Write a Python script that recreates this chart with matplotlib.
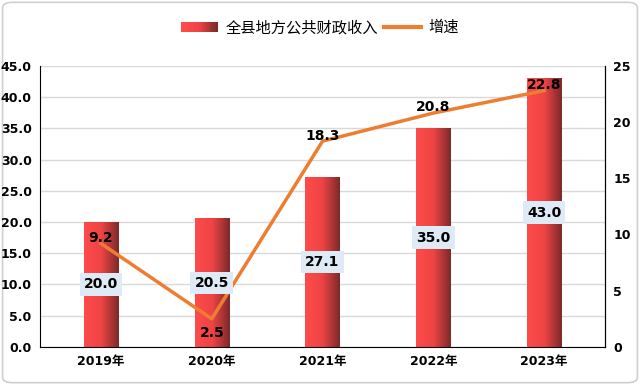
import numpy as np
import matplotlib
matplotlib.use('Agg')
import matplotlib.pyplot as plt
from matplotlib.colors import LinearSegmentedColormap
from matplotlib.legend_handler import HandlerBase
from matplotlib.patches import Rectangle, FancyBboxPatch
from matplotlib.lines import Line2D

plt.rcParams['font.family'] = ['DejaVu Sans', 'Noto Sans CJK SC']

# 数据
years = ['2019年', '2020年', '2021年', '2022年', '2023年']
revenue = [20.0, 20.5, 27.1, 35.0, 43.0]
growth = [9.2, 2.5, 18.3, 20.8, 22.8]

bar_cmap = LinearSegmentedColormap.from_list(
    'bar', [(0, '#ff4b4b'), (0.5, '#ee4444'), (1, '#7d2a2a')])


class GradientHandler(HandlerBase):
    def create_artists(self, legend, orig, xd, yd, w, h, fs, trans):
        out = []
        n = 20
        for i in range(n):
            r = Rectangle((xd + w * i / n, yd), w / n + 0.3, h,
                          facecolor=bar_cmap(i / (n - 1)), edgecolor='none',
                          transform=trans)
            out.append(r)
        return out


fig = plt.figure(figsize=(6.4, 3.85), dpi=100)
border = FancyBboxPatch((0.004, 0.006), 0.992, 0.988,
                        boxstyle='round,pad=0,rounding_size=0.015',
                        transform=fig.transFigure, facecolor='none',
                        edgecolor='#d0d0d0', linewidth=1.2, zorder=-1)
fig.patches.append(border)

ax = fig.add_axes([0.0625, 0.099, 0.883, 0.73])
ax2 = ax.twinx()

x = np.arange(len(years))
bw = 0.31
for xi, v in zip(x, revenue):
    grad = np.linspace(0, 1, 64).reshape(1, -1)
    ax.imshow(grad, cmap=bar_cmap, extent=[xi - bw / 2, xi + bw / 2, 0, v],
              aspect='auto', zorder=2, interpolation='bilinear')

ax.set_xlim(-0.55, len(years) - 0.45)
ax.set_ylim(0, 45)
ax.set_yticks(np.arange(0, 46, 5))
ax.set_yticklabels(['%.1f' % t for t in np.arange(0, 46, 5)])
ax.set_xticks(x)
ax.set_xticklabels(years)
ax.grid(axis='y', color='#d9d9d9', linewidth=1, zorder=0)
ax.set_axisbelow(True)

ax2.plot(x, growth, color='#ed7d31', linewidth=2.5, zorder=3)
ax2.set_ylim(0, 25)
ax2.set_yticks(np.arange(0, 26, 5))

for a in (ax, ax2):
    a.spines['top'].set_visible(False)
    a.tick_params(length=0, labelsize=9, pad=6)
    for lab in a.get_xticklabels() + a.get_yticklabels():
        lab.set_fontweight('bold')
for s in ['left', 'bottom']:
    ax.spines[s].set_color('black')
ax2.spines['right'].set_color('black')
ax2.spines['left'].set_visible(False)
ax2.spines['bottom'].set_visible(False)

# 增速标签
for xi, g in zip(x, growth):
    if g < 5:
        ax2.annotate('%.1f' % g, (xi, g), xytext=(0, -10), textcoords='offset points',
                     ha='center', va='center', fontsize=10, fontweight='bold', zorder=5)
    else:
        ax2.annotate('%.1f' % g, (xi, g), xytext=(0, 4), textcoords='offset points',
                     ha='center', va='center', fontsize=10, fontweight='bold', zorder=5)

# 收入标签
for xi, v in zip(x, revenue):
    ax2.text(xi, v / 2, '%.1f' % v, transform=ax.transData, ha='center', va='center',
             fontsize=10, fontweight='bold', zorder=6,
             bbox=dict(boxstyle='square,pad=0.3', facecolor='#deeaf6', edgecolor='none'))

handles = [Rectangle((0, 0), 1, 1), Line2D([], [], color='#ed7d31', linewidth=3)]
fig.legend(handles, ['全县地方公共财政收入', '增速'], loc='center', bbox_to_anchor=(0.5, 0.928),
           ncol=2, frameon=False, fontsize=11, handlelength=2.4, columnspacing=0.4,
           handletextpad=0.5, handler_map={Rectangle: GradientHandler()})

fig.savefig('out.png', dpi=100)
